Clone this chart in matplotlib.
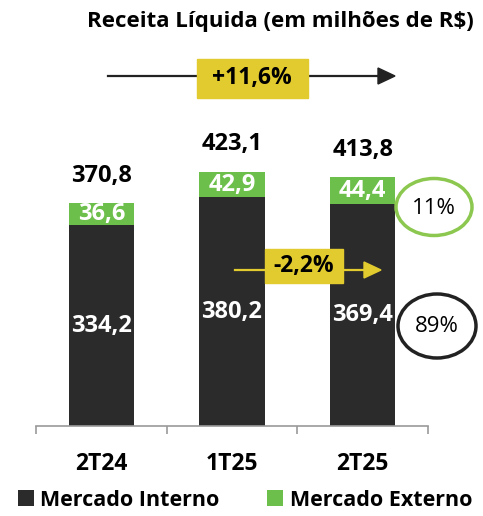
import matplotlib
matplotlib.use("Agg")
from matplotlib import pyplot as plt
from matplotlib.patches import Ellipse, Rectangle, Polygon

plt.rcParams['font.family'] = ['Open Sans', 'DejaVu Sans']

# data
periods = ['2T24', '1T25', '2T25']
interno = [334.2, 380.2, 369.4]
externo = [36.6, 42.9, 44.4]
totals = [370.8, 423.1, 413.8]
growth_yoy = '+11,6%'
growth_qoq = '-2,2%'
share_ext = '11%'
share_int = '89%'

dark = '#2b2b2b'
green = '#6dbf4b'
yellow = '#e2cb2e'

W, H = 483, 516
fig = plt.figure(figsize=(W / 100, H / 100), dpi=100)

def fx(x):
    return x / W

def fy(y):
    return 1 - y / H

def fmt(v):
    return f'{v:.1f}'.replace('.', ',')

# axes: bottom spine at y=426px, x from 36 to 428px
ax = fig.add_axes([fx(36), fy(426), fx(428) - fx(36), fy(0) - fy(426)])
ax.set_xlim(-0.5, 2.5)
ax.set_ylim(0, 426 / 0.601)

x = range(len(periods))
b1 = ax.bar(x, interno, width=0.5, color=dark, label='Mercado Interno')
b2 = ax.bar(x, externo, width=0.5, bottom=interno, color=green, label='Mercado Externo')

for i in x:
    ax.text(i, interno[i] / 2, fmt(interno[i]), ha='center', va='center',
            color='white', fontsize=17, fontweight='bold')
    ax.text(i, interno[i] + externo[i] / 2, fmt(externo[i]), ha='center',
            va='center', color='white', fontsize=17, fontweight='bold')
    ax.annotate(fmt(totals[i]), (i, totals[i]), xytext=(0, 11),
                textcoords='offset points', ha='center', va='bottom',
                fontsize=17, fontweight='bold', color='black')

for s in ['top', 'left', 'right']:
    ax.spines[s].set_visible(False)
ax.spines['bottom'].set_color('#9a9a9a')
ax.spines['bottom'].set_linewidth(1.2)
ax.set_yticks([])
ax.set_xticks([-0.5, 0.5, 1.5, 2.5])
ax.set_xticklabels([])
ax.tick_params(axis='x', which='major', length=6, color='#9a9a9a', width=1.2)
ax.set_xticks(list(x), minor=True)
ax.set_xticklabels(periods, minor=True, fontsize=16.5, fontweight='bold')
ax.tick_params(axis='x', which='minor', length=0, pad=19)

# title
fig.text(fx(280), fy(22), 'Receita Líquida (em milhões de R$)', ha='center', va='center',
         fontsize=16, fontweight='bold')

def add(p, z=3):
    p.set_transform(fig.transFigure)
    p.set_zorder(z)
    fig.add_artist(p)

# top growth arrow
add(plt.Line2D([fx(108), fx(380)], [fy(76), fy(76)], color='#222222', lw=1.6), 2)
add(Polygon([[fx(378), fy(68)], [fx(395), fy(76)], [fx(378), fy(84)]], closed=True,
            color='#222222'), 2)
add(Rectangle((fx(197), fy(98)), fx(111), fy(59) - fy(98), color=yellow), 3)
fig.text(fx(252), fy(78), growth_yoy, ha='center', va='center', fontsize=16.5,
         fontweight='bold', zorder=4)

# q/q arrow
add(plt.Line2D([fx(235), fx(366)], [fy(270), fy(270)], color=yellow, lw=1.6), 2)
add(Polygon([[fx(364), fy(262)], [fx(381), fy(270)], [fx(364), fy(278)]], closed=True,
            color=yellow), 2)
add(Rectangle((fx(265), fy(283)), fx(78), fy(249) - fy(283), color=yellow), 3)
fig.text(fx(304), fy(266), growth_qoq, ha='center', va='center', fontsize=16.5,
         fontweight='bold', zorder=4)

# share ellipses
add(Ellipse((fx(434), fy(207)), fx(76), fy(0) - fy(57), fill=False, ec='#8cc84f', lw=2.5))
fig.text(fx(434), fy(208), share_ext, ha='center', va='center', fontsize=16)
add(Ellipse((fx(437), fy(326)), fx(78), fy(0) - fy(64), fill=False, ec='#222222', lw=2.5))
fig.text(fx(437), fy(326), share_int, ha='center', va='center', fontsize=16)

# legend
leg = fig.legend(handles=[b1, b2], loc='center', bbox_to_anchor=(fx(245), fy(500)), ncol=2,
                 frameon=False, handlelength=0.75, handleheight=0.75, handletextpad=0.3,
                 columnspacing=2.2, prop={'size': 15.5, 'weight': 'bold'})

fig.savefig('out.png', dpi=100)
